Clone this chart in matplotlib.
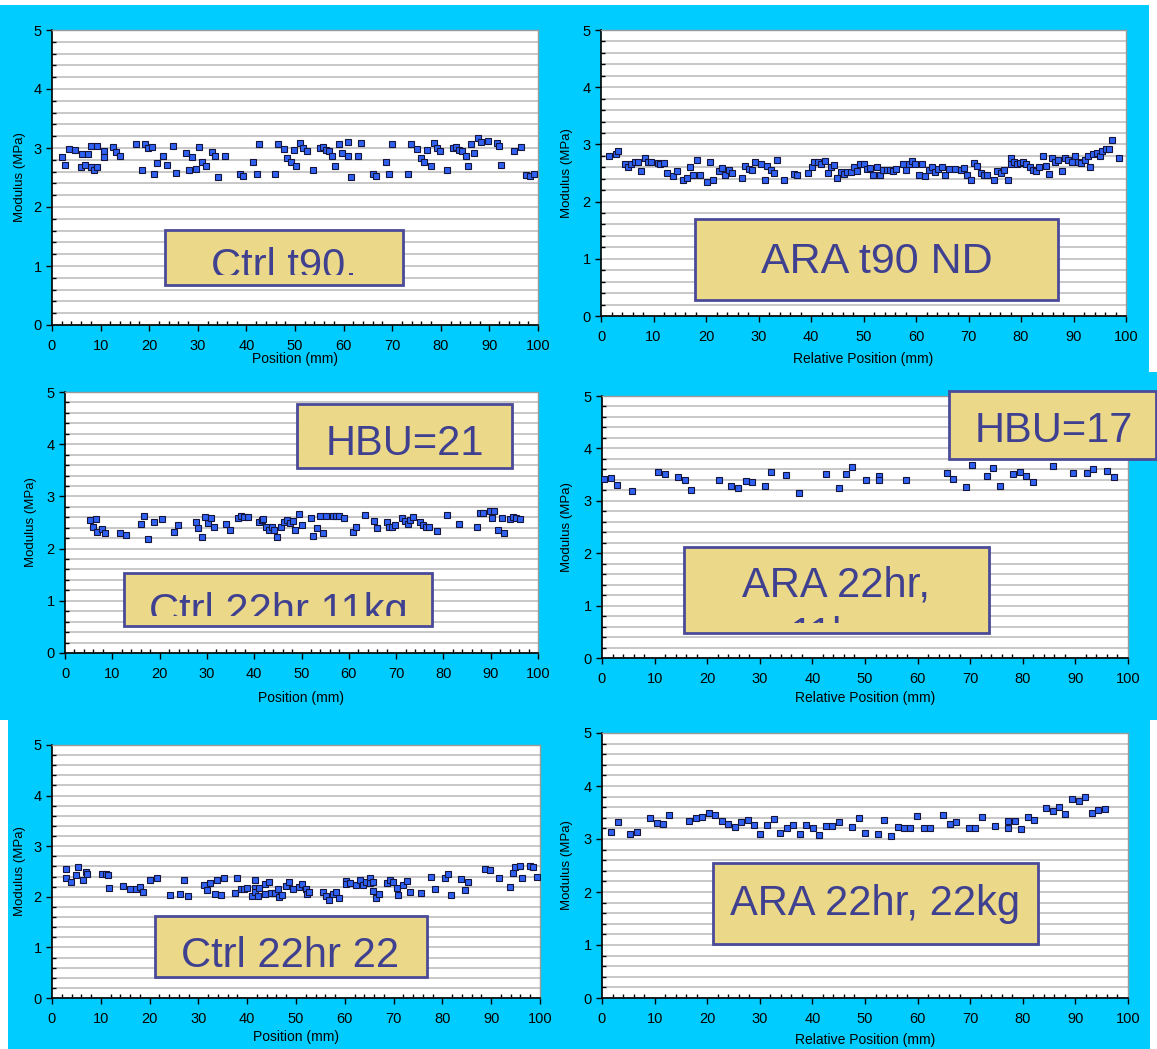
import numpy as np
import matplotlib
matplotlib.use("Agg")
import matplotlib.pyplot as plt
from matplotlib.patches import Rectangle

plt.rcParams["font.family"] = ["Liberation Sans", "DejaVu Sans"]

# --- data (position in mm, modulus in MPa) ---
ctrl_t90_x = [2.1, 2.7, 3.4, 4.7, 5.9, 6.1, 6.7, 7.4, 8.0, 8.0, 8.6, 9.3, 9.3, 10.6, 10.6, 12.5, 13.2, 13.9,
              17.3, 18.5, 19.2, 19.8, 20.5, 21.0, 21.7, 22.9, 23.6, 24.9, 25.6, 27.5, 28.2, 28.8, 29.6, 30.2,
              30.9, 31.6, 32.9, 33.5, 34.2, 35.5, 38.7, 39.4, 41.4, 42.1, 42.6, 45.9, 46.5, 47.8, 48.4, 49.1,
              49.8, 50.3, 51.1, 51.7, 52.4, 53.8, 55.1, 55.7, 56.3, 57.0, 57.6, 58.3, 59.0, 59.6, 60.9, 60.9,
              61.6, 62.9, 63.6, 66.0, 66.7, 68.7, 69.4, 70.0, 73.2, 73.9, 75.2, 75.9, 76.6, 77.2, 77.9, 78.6,
              79.2, 79.8, 81.2, 82.5, 83.1, 83.7, 84.4, 85.1, 85.6, 86.2, 86.9, 87.6, 88.2, 89.7, 91.6, 92.0,
              92.4, 95.0, 96.6, 97.6, 98.3, 99.2]
ctrl_t90_y = [2.85, 2.71, 2.99, 2.96, 2.68, 2.89, 2.72, 2.89, 3.03, 2.68, 2.63, 3.03, 2.68, 2.95, 2.85, 3.02, 2.93, 2.87,
              3.06, 2.63, 3.07, 3.00, 3.02, 2.56, 2.75, 2.86, 2.71, 3.03, 2.58, 2.91, 2.63, 2.85, 2.65, 3.02,
              2.76, 2.69, 2.93, 2.87, 2.51, 2.87, 2.56, 2.52, 2.77, 2.56, 3.07, 2.56, 3.06, 2.99, 2.83, 2.76,
              2.96, 2.69, 3.08, 3.00, 2.95, 2.63, 3.00, 3.02, 2.96, 2.95, 2.87, 2.69, 3.07, 2.91, 3.10, 2.87,
              2.51, 2.87, 3.09, 2.56, 2.52, 2.77, 2.56, 3.07, 2.56, 3.06, 2.99, 2.83, 2.76, 2.96, 2.69, 3.09,
              3.00, 2.95, 2.63, 3.00, 3.02, 2.96, 2.95, 2.87, 2.69, 3.07, 2.91, 3.17, 3.10, 3.12, 3.08, 3.03,
              2.71, 2.95, 3.02, 2.55, 2.52, 2.56]

ara_t90_x = [1.5, 2.8, 3.3, 4.6, 5.1, 5.7, 6.4, 7.1, 7.7, 8.3, 8.9, 9.5, 10.8, 11.3, 12.0, 12.6, 13.8, 14.5,
             15.7, 16.3, 16.9, 17.5, 18.2, 18.8, 20.1, 20.7, 21.3, 22.5, 23.1, 23.7, 24.3, 25.0, 26.8, 27.5,
             28.1, 28.7, 29.3, 30.5, 31.2, 31.7, 32.4, 33.0, 33.6, 34.9, 36.7, 37.4, 39.5, 40.1, 40.6, 41.3,
             41.9, 42.6, 43.2, 43.8, 44.4, 45.0, 45.7, 46.3, 46.9, 47.6, 48.2, 48.8, 49.4, 50.0, 50.6, 51.3,
             51.9, 52.5, 53.2, 53.7, 54.4, 55.0, 55.6, 56.2, 57.5, 58.0, 58.6, 59.3, 59.9, 60.6, 61.2, 61.7,
             62.4, 63.0, 63.6, 64.2, 64.9, 65.5, 66.2, 67.4, 68.6, 69.2, 69.8, 70.4, 71.1, 71.7, 72.3, 72.9,
             73.5, 74.8, 75.5, 76.1, 76.8, 77.5, 78.1, 78.1, 78.7, 79.3, 79.9, 80.4, 81.0, 81.7, 82.3, 82.9,
             83.5, 84.1, 84.7, 85.3, 85.9, 86.5, 87.1, 87.8, 88.4, 89.0, 89.7, 90.3, 90.8, 91.5, 92.1, 92.7,
             93.1, 93.7, 94.4, 95.0, 95.5, 96.1, 96.8, 97.4, 98.7]
ara_t90_y = [2.79, 2.83, 2.88, 2.65, 2.61, 2.66, 2.70, 2.70, 2.53, 2.77, 2.69, 2.69, 2.67, 2.66, 2.67, 2.50, 2.44, 2.54,
             2.38, 2.41, 2.61, 2.47, 2.72, 2.47, 2.35, 2.69, 2.38, 2.54, 2.58, 2.47, 2.56, 2.50, 2.42, 2.63,
             2.57, 2.56, 2.69, 2.66, 2.38, 2.63, 2.55, 2.50, 2.73, 2.38, 2.48, 2.47, 2.50, 2.60, 2.70, 2.70,
             2.65, 2.71, 2.50, 2.60, 2.64, 2.42, 2.52, 2.48, 2.52, 2.52, 2.60, 2.54, 2.66, 2.66, 2.57, 2.58,
             2.47, 2.60, 2.47, 2.56, 2.56, 2.56, 2.54, 2.57, 2.66, 2.55, 2.66, 2.71, 2.65, 2.47, 2.65, 2.44,
             2.56, 2.61, 2.52, 2.57, 2.60, 2.47, 2.57, 2.57, 2.55, 2.58, 2.47, 2.38, 2.67, 2.63, 2.50, 2.47,
             2.47, 2.38, 2.54, 2.50, 2.56, 2.38, 2.77, 2.65, 2.70, 2.65, 2.67, 2.69, 2.66, 2.61, 2.55, 2.54,
             2.60, 2.79, 2.62, 2.48, 2.76, 2.69, 2.73, 2.54, 2.76, 2.73, 2.69, 2.80, 2.70, 2.67, 2.73, 2.79,
             2.60, 2.83, 2.85, 2.79, 2.89, 2.92, 2.92, 3.08, 2.76]

ctrl_11kg_x = [5.2, 6.0, 6.6, 6.7, 7.8, 8.5, 11.6, 13.0, 16.1, 16.8, 17.5, 18.8, 20.6, 23.1, 23.8, 27.7, 28.2,
               28.9, 29.6, 30.2, 30.9, 31.4, 34.1, 34.8, 36.5, 37.2, 37.8, 38.6, 41.0, 41.6, 41.8, 42.4, 43.2,
               43.8, 44.2, 44.9, 45.6, 46.2, 46.9, 47.5, 48.2, 48.6, 49.4, 50.0, 52.1, 52.5, 53.2, 53.9, 54.6,
               55.2, 56.6, 57.2, 58.0, 59.0, 60.8, 61.5, 63.5, 65.3, 65.9, 68.0, 68.6, 69.1, 69.7, 71.2, 71.9,
               72.5, 73.0, 73.6, 75.0, 75.6, 76.3, 76.9, 78.7, 80.8, 83.3, 87.1, 87.7, 88.4, 89.8, 90.2, 90.8,
               91.5, 92.3, 92.9, 94.1, 94.7, 95.4, 96.1]
ctrl_11kg_y = [2.55, 2.41, 2.56, 2.31, 2.37, 2.30, 2.30, 2.27, 2.47, 2.63, 2.19, 2.51, 2.56, 2.31, 2.45, 2.51, 2.39,
               2.23, 2.61, 2.50, 2.59, 2.42, 2.47, 2.35, 2.58, 2.63, 2.61, 2.61, 2.51, 2.54, 2.56, 2.41, 2.35,
               2.42, 2.36, 2.23, 2.41, 2.51, 2.55, 2.49, 2.52, 2.35, 2.67, 2.45, 2.58, 2.25, 2.39, 2.63, 2.30,
               2.63, 2.63, 2.63, 2.63, 2.58, 2.31, 2.42, 2.65, 2.52, 2.39, 2.51, 2.42, 2.42, 2.45, 2.58, 2.53,
               2.47, 2.54, 2.61, 2.51, 2.46, 2.41, 2.42, 2.33, 2.65, 2.47, 2.42, 2.68, 2.68, 2.72, 2.58, 2.72,
               2.35, 2.58, 2.30, 2.56, 2.61, 2.58, 2.56]

ara_11kg_x = [0.4, 1.7, 2.9, 5.7, 10.6, 12.0, 14.5, 15.7, 16.9, 22.2, 24.6, 25.9, 27.3, 28.6, 31.0, 32.2, 34.9,
              37.4, 42.6, 45.1, 46.3, 47.5, 50.2, 52.7, 52.7, 57.8, 65.5, 66.7, 69.2, 70.4, 73.1, 74.3, 75.6,
              78.1, 79.4, 80.7, 82.0, 85.7, 89.6, 92.2, 93.3, 96.0, 97.3]
ara_11kg_y = [3.41, 3.44, 3.31, 3.18, 3.55, 3.51, 3.46, 3.39, 3.20, 3.40, 3.29, 3.25, 3.37, 3.35, 3.28, 3.55, 3.49,
              3.14, 3.51, 3.24, 3.51, 3.64, 3.40, 3.48, 3.40, 3.40, 3.53, 3.42, 3.26, 3.69, 3.48, 3.63, 3.28,
              3.51, 3.55, 3.48, 3.35, 3.66, 3.53, 3.53, 3.60, 3.57, 3.46]

ctrl_22kg_x = [2.8, 2.8, 3.9, 4.9, 5.4, 6.3, 6.9, 7.1, 10.3, 11.1, 11.5, 11.6, 14.6, 16.0, 17.2, 18.0, 18.6, 20.0,
               21.5, 24.2, 26.3, 27.1, 27.8, 31.1, 31.8, 32.4, 33.3, 33.9, 34.7, 35.3, 37.4, 38.0, 38.7, 39.3,
               40.0, 40.9, 41.5, 41.5, 41.5, 42.3, 42.5, 43.6, 43.7, 44.5, 44.9, 45.6, 46.4, 46.6, 47.2, 48.0,
               48.6, 49.3, 50.6, 51.3, 52.0, 52.2, 52.6, 55.6, 56.1, 56.8, 57.5, 58.2, 58.8, 60.3, 60.3, 61.0,
               62.3, 63.2, 63.7, 64.4, 65.2, 65.2, 65.8, 65.8, 66.4, 67.1, 68.6, 69.2, 69.9, 70.7, 70.8, 71.9,
               72.8, 73.4, 75.6, 77.6, 78.5, 80.6, 81.2, 81.8, 83.9, 84.7, 85.3, 88.8, 89.7, 91.7, 93.8, 94.4,
               94.9, 95.8, 96.4, 97.9, 98.5, 99.3]
ctrl_22kg_y = [2.55, 2.37, 2.29, 2.44, 2.58, 2.34, 2.50, 2.45, 2.45, 2.45, 2.43, 2.18, 2.22, 2.16, 2.15, 2.20, 2.09, 2.34,
               2.38, 2.04, 2.05, 2.34, 2.01, 2.24, 2.14, 2.27, 2.05, 2.34, 2.04, 2.38, 2.07, 2.37, 2.15, 2.16,
               2.18, 2.01, 2.33, 2.18, 2.09, 2.01, 2.18, 2.25, 2.05, 2.30, 2.07, 2.07, 2.15, 2.00, 2.03, 2.22,
               2.30, 2.16, 2.20, 2.25, 2.15, 2.06, 2.10, 2.09, 2.02, 1.93, 2.06, 2.09, 1.97, 2.31, 2.25, 2.28,
               2.24, 2.33, 2.24, 2.30, 2.38, 2.28, 2.30, 2.12, 1.97, 2.05, 2.27, 2.33, 2.29, 2.17, 2.03, 2.24,
               2.32, 2.09, 2.07, 2.39, 2.15, 2.38, 2.46, 2.04, 2.35, 2.14, 2.30, 2.54, 2.52, 2.38, 2.19, 2.48,
               2.59, 2.61, 2.38, 2.61, 2.58, 2.39]

ara_22kg_x = [1.7, 3.0, 5.4, 6.7, 9.1, 10.4, 11.6, 12.8, 16.6, 17.8, 19.1, 20.3, 21.5, 22.8, 24.0, 25.2, 26.4,
              27.7, 28.9, 30.1, 31.4, 32.7, 33.9, 35.1, 36.4, 37.6, 38.8, 40.1, 41.3, 42.5, 43.8, 45.0, 47.5,
              48.8, 50.0, 52.5, 53.7, 54.9, 56.2, 57.4, 58.6, 59.9, 61.2, 62.4, 64.9, 66.1, 67.3, 69.8, 71.0,
              72.2, 74.8, 77.2, 77.2, 78.5, 79.7, 80.9, 82.2, 84.4, 85.7, 86.9, 88.1, 89.4, 90.7, 91.9, 93.1,
              94.3, 95.6]
ara_22kg_y = [3.14, 3.32, 3.10, 3.14, 3.39, 3.30, 3.28, 3.46, 3.34, 3.39, 3.41, 3.50, 3.45, 3.34, 3.28, 3.23, 3.32,
              3.36, 3.26, 3.10, 3.26, 3.38, 3.12, 3.20, 3.26, 3.10, 3.26, 3.21, 3.08, 3.25, 3.25, 3.32, 3.23,
              3.39, 3.12, 3.10, 3.36, 3.05, 3.23, 3.20, 3.21, 3.43, 3.21, 3.21, 3.45, 3.28, 3.32, 3.21, 3.21,
              3.41, 3.25, 3.34, 3.21, 3.34, 3.19, 3.41, 3.35, 3.59, 3.52, 3.61, 3.48, 3.76, 3.71, 3.79, 3.50,
              3.55, 3.57]

x_labels = ["Position (mm)", "Relative Position (mm)", "Position (mm)",
            "Relative Position (mm)", "Position (mm)", "Relative Position (mm)"]
y_label = "Modulus (MPa)"

W, H = 1157, 1049
CYAN = "#00CCFF"
BOX_FACE = "#EBD888"
BOX_EDGE = "#4A4A98"
BOX_TEXT = "#3F4190"

fig = plt.figure(figsize=(W / 100, H / 100), dpi=100)
fig.patch.set_facecolor(CYAN)


def fig_rect(x0, y0, x1, y1):
    # pixel box (top-left origin) -> figure fraction [left, bottom, width, height]
    return [x0 / W, 1 - y1 / H, (x1 - x0) / W, (y1 - y0) / H]


# thin white margins where the pasted panels don't reach
for x0, y0, x1, y1 in [(0, 0, W, 5), (0, 720, 8, H), (1150, 720, W, H), (1149, 0, W, 372)]:
    fig.add_artist(Rectangle((x0 / W, 1 - y1 / H), (x1 - x0) / W, (y1 - y0) / H,
                             transform=fig.transFigure, facecolor="white", edgecolor="none", zorder=-5))

# (left, right, top, bottom) of each plot area, ylabel x, xlabel y  (pixels)
panels = [
    (ctrl_t90_x, ctrl_t90_y, (52, 538, 30, 325), 20, 359),
    (ara_t90_x, ara_t90_y, (601, 1126, 30, 316), 567, 359),
    (ctrl_11kg_x, ctrl_11kg_y, (65, 538, 392, 653), 31, 698),
    (ara_11kg_x, ara_11kg_y, (602, 1128, 396, 658), 567, 698),
    (ctrl_22kg_x, ctrl_22kg_y, (52, 540, 745, 998), 20, 1037),
    (ara_22kg_x, ara_22kg_y, (602, 1128, 733, 998), 567, 1040),
]

for i, (xs, ys, (l, r, t, b), ylab_x, xlab_y) in enumerate(panels):
    ax = fig.add_axes(fig_rect(l, t, r, b))
    ax.set_facecolor("white")
    ax.plot(xs, ys, ls="none", marker="s", ms=5.0, mfc="#2F62F2", mec="#14143C", mew=0.8, zorder=3)
    ax.set_xlim(0, 100)
    ax.set_ylim(0, 5)
    ax.set_xticks(range(0, 101, 10))
    ax.set_xticks(range(0, 101, 2), minor=True)
    ax.set_yticks(range(0, 6))
    ax.set_yticks(np.arange(0, 5.01, 0.2), minor=True)
    ax.grid(axis="y", which="both", color="#C4C4C4", lw=1.3)
    ax.set_axisbelow(True)
    ax.tick_params(which="major", direction="out", length=4, width=1, labelsize=10.5, color="black")
    ax.tick_params(axis="x", which="major", pad=6)
    ax.tick_params(axis="y", which="major", pad=3.5)
    ax.tick_params(which="minor", direction="in", length=3, width=1, color="black")
    for side in ["top", "right"]:
        ax.spines[side].set_color("#9A9A9A")
        ax.spines[side].set_linewidth(1)
    for side in ["left", "bottom"]:
        ax.spines[side].set_color("black")
        ax.spines[side].set_linewidth(1.2)

    ax.set_xlabel(x_labels[i], fontsize=10)
    ax.xaxis.set_label_coords(0.5, -(xlab_y - b) / (b - t))
    ax.xaxis.label.set_va("center")
    ax.set_ylabel(y_label, fontsize=9.5)
    ax.yaxis.set_label_coords((ylab_x - l) / (r - l), 0.5)
    ax.yaxis.label.set_va("center")

# annotation boxes: (x0, y0, x1, y1, clip bottom, [(text, centre x, baseline y)], size)
boxes = [
    (165, 230, 403, 285, 275, [("Ctrl t90.", 284, 278)], 30),
    (695, 219, 1058, 300, 300, [("ARA t90 ND", 877, 273)], 31),
    (297, 404, 512, 468, 468, [("HBU=21", 405, 455)], 30),
    (124, 573, 432, 626, 616, [("Ctrl 22hr 11kg", 278, 623)], 30),
    (949, 391, 1156, 459, 459, [("HBU=17", 1054, 442)], 30),
    (684, 547, 989, 633, 623, [("ARA 22hr,", 836, 597), ("11kg", 833, 647)], 30),
    (155, 916, 427, 977, 977, [("Ctrl 22hr 22", 290, 967)], 30),
    (713, 863, 1038, 944, 944, [("ARA 22hr, 22kg", 875, 915)], 30),
]

for x0, y0, x1, y1, clip_y, lines, size in boxes:
    box = Rectangle((x0 / W, 1 - y1 / H), (x1 - x0) / W, (y1 - y0) / H, transform=fig.transFigure,
                    facecolor=BOX_FACE, edgecolor=BOX_EDGE, lw=2, zorder=5)
    fig.add_artist(box)
    clip = Rectangle((x0 / W, 1 - clip_y / H), (x1 - x0) / W, (clip_y - y0) / H, transform=fig.transFigure)
    for txt, cx, base in lines:
        tt = fig.text(cx / W, 1 - base / H, txt, ha="center", va="baseline", fontsize=size,
                      color=BOX_TEXT, zorder=6)
        tt.set_clip_path(clip)

fig.savefig("out.png", dpi=100, facecolor=fig.get_facecolor())
